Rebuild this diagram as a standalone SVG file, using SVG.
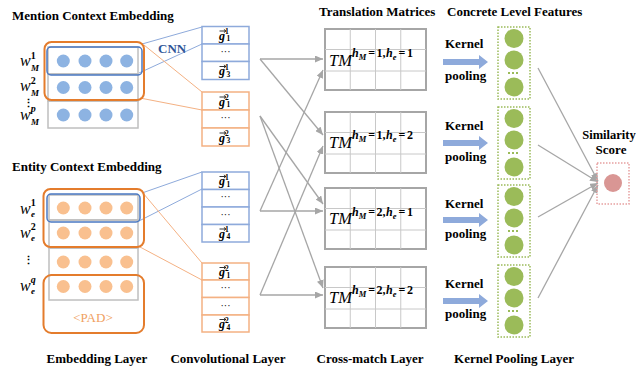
<svg xmlns="http://www.w3.org/2000/svg" xmlns:xlink="http://www.w3.org/1999/xlink" width="636" height="372" viewBox="0 0 636 372">
<style>
.hd{font-family:"Liberation Serif","Times New Roman",serif;font-weight:bold;font-size:13px;fill:#000}
.ct{text-anchor:middle}
.cnn{font-family:"Liberation Serif",serif;font-weight:bold;font-size:13px;fill:#2f5597}
.pad{font-family:"Liberation Serif",serif;font-size:13px;fill:#f0a060;text-anchor:middle}
.wl{font-family:"Liberation Serif",serif;font-style:italic;font-size:16px;fill:#000}
.ws{font-style:normal;font-weight:bold;font-size:10px}
.wi{font-weight:bold;font-style:italic;font-size:9px}
.vd{font-family:"Liberation Serif",serif;font-weight:bold;font-size:11px;fill:#000}
.gl{font-family:"Liberation Serif",serif;font-weight:bold;font-style:italic;font-size:12px;fill:#000}
.gs{font-style:normal;font-size:7.5px}
.dt{font-family:"Liberation Serif",serif;font-size:10px;fill:#000;text-anchor:middle}
.tm{font-family:"Liberation Serif",serif;font-style:italic;font-size:16.5px;fill:#000}
.tms{font-weight:bold;font-style:normal;font-size:12px}
.tmh{font-style:italic}
.tmsub{font-size:8.5px;font-style:italic}
.gray{fill:none;stroke:#bfbfbf;stroke-width:1.5}
.orr{fill:none;stroke:#e47c2c;stroke-width:2}
.blr{fill:none;stroke:#4a78c2;stroke-width:1.5}
.bc{fill:#8db3e2}
.oc{fill:#f9c08f}
.bcell{fill:#fff;stroke:#8eaadb;stroke-width:1.5}
.ocell{fill:#fff;stroke:#f4b183;stroke-width:1.5}
.tmo{fill:#fff;stroke:#a6a6a6;stroke-width:2}
.tmi{stroke:#c8c8c8;stroke-width:1;fill:none}
.fbox{fill:none;stroke:#9bbb59;stroke-width:1.5;stroke-dasharray:1.5 1.5}
.gc{fill:#9bbb59}
.gd{stroke:#9bbb59;stroke-width:2;stroke-dasharray:2 2}
.sbox{fill:none;stroke:#e6a0a0;stroke-width:1.5;stroke-dasharray:1.5 1.5}
.ka{fill:#8eaadb}
.conn{stroke:#a6a6a6;stroke-width:1.3;fill:none;marker-end:url(#ah)}
.bl{stroke:#8eaadb;stroke-width:1;fill:none}
.ol{stroke:#f4b183;stroke-width:1;fill:none}
.vec{stroke:#000;stroke-width:0.8;fill:none}
</style>
<defs>
<marker id="ah" markerUnits="userSpaceOnUse" markerWidth="8" markerHeight="7" refX="8" refY="3.5" orient="auto">
<path d="M0,0 L8,3.5 L0,7 Z" fill="#a6a6a6"/>
</marker>
<path id="karrow" d="M0,-3 H36 V-7 L45,0 L36,7 V3 H0 Z"/>
<path id="vec" class="vec" d="M-3,0 H3.2 M1.4,-1.6 L3.4,0 L1.4,1.6"/>
<path id="tmgrid" class="tmi" d="M25.25,0V61M50.5,0V61M75.75,0V61M0,20.5H101M0,42H101"/>
</defs>
<rect width="636" height="372" fill="#fff"/>

<!-- headers -->
<g id="headers">
<text class="hd" x="12" y="20">Mention Context Embedding</text>
<text class="hd" x="12" y="171">Entity Context Embedding</text>
<text class="hd" x="319" y="16">Translation Matrices</text>
<text class="hd" x="447" y="16">Concrete Level Features</text>
<text class="hd ct" x="97" y="363">Embedding Layer</text>
<text class="hd ct" x="228" y="363">Convolutional Layer</text>
<text class="hd ct" x="370" y="363">Cross-match Layer</text>
<text class="hd ct" x="514" y="363">Kernel Pooling Layer</text>
</g>

<!-- connectors -->
<g id="connectors">
<line class="bl" x1="142" y1="44" x2="202" y2="27"/>
<line class="bl" x1="139" y1="73" x2="202" y2="44"/>
<line class="ol" x1="144" y1="45" x2="202" y2="92"/>
<line class="ol" x1="140" y1="98" x2="202" y2="110"/>
<line class="bl" x1="142" y1="193" x2="202" y2="172"/>
<line class="bl" x1="139" y1="221" x2="202" y2="189"/>
<line class="ol" x1="143" y1="193" x2="202" y2="263"/>
<line class="ol" x1="140" y1="247" x2="202" y2="280"/>
<line class="conn" x1="260" y1="59" x2="323" y2="59"/>
<line class="conn" x1="260" y1="211" x2="323" y2="70"/>
<line class="conn" x1="260" y1="59" x2="323" y2="135"/>
<line class="conn" x1="260" y1="295" x2="323" y2="146"/>
<line class="conn" x1="260" y1="116" x2="323" y2="204"/>
<line class="conn" x1="260" y1="211" x2="323" y2="211"/>
<line class="conn" x1="260" y1="116" x2="323" y2="288"/>
<line class="conn" x1="260" y1="295" x2="323" y2="295"/>
<line class="conn" x1="538" y1="68" x2="598" y2="181"/>
<line class="conn" x1="538" y1="145" x2="598" y2="182"/>
<line class="conn" x1="538" y1="217" x2="598" y2="183"/>
<line class="conn" x1="538" y1="298" x2="598" y2="185"/>
</g>

<!-- mention embedding -->
<g id="mention-embedding">
<rect class="gray" x="48" y="47" width="90" height="27"/>
<rect class="gray" x="48" y="74" width="90" height="27"/>
<rect class="gray" x="48" y="101" width="90" height="27"/>
<circle class="bc" cx="63.3" cy="61" r="6.5"/><circle class="bc" cx="85" cy="61" r="6.5"/><circle class="bc" cx="106" cy="61" r="6.5"/><circle class="bc" cx="126.7" cy="61" r="6.5"/>
<circle class="bc" cx="63.3" cy="87.5" r="6.5"/><circle class="bc" cx="85" cy="87.5" r="6.5"/><circle class="bc" cx="106" cy="87.5" r="6.5"/><circle class="bc" cx="126.7" cy="87.5" r="6.5"/>
<circle class="bc" cx="63.3" cy="115" r="6.5"/><circle class="bc" cx="85" cy="115" r="6.5"/><circle class="bc" cx="106" cy="115" r="6.5"/><circle class="bc" cx="126.7" cy="115" r="6.5"/>
<rect class="orr" x="44.5" y="42" width="99.5" height="58" rx="7"/>
<rect class="blr" x="47" y="47" width="95" height="28" rx="4"/>
<text class="wl" x="20" y="66">w<tspan class="ws" dy="-7">1</tspan><tspan class="wi" x="31" dy="11.5">M</tspan></text>
<text class="wl" x="20" y="91">w<tspan class="ws" dy="-7">2</tspan><tspan class="wi" x="31" dy="11.5">M</tspan></text>
<text class="vd" x="22.5" y="107">⋮</text>
<text class="wl" x="20" y="120">w<tspan class="wi" style="font-size:10px" dy="-8">p</tspan><tspan class="wi" x="31" dy="12.5">M</tspan></text>
</g>

<!-- entity embedding -->
<g id="entity-embedding">
<rect class="gray" x="49" y="195" width="89" height="25"/>
<rect class="gray" x="49" y="220" width="89" height="28"/>
<rect class="gray" x="49" y="248" width="89" height="27"/>
<rect class="gray" x="49" y="275" width="89" height="25"/>
<circle class="oc" cx="63.3" cy="208" r="6.5"/><circle class="oc" cx="85" cy="208" r="6.5"/><circle class="oc" cx="106" cy="208" r="6.5"/><circle class="oc" cx="126.7" cy="208" r="6.5"/>
<circle class="oc" cx="63.3" cy="233" r="6.5"/><circle class="oc" cx="85" cy="233" r="6.5"/><circle class="oc" cx="106" cy="233" r="6.5"/><circle class="oc" cx="126.7" cy="233" r="6.5"/>
<circle class="oc" cx="63.3" cy="262" r="6.5"/><circle class="oc" cx="85" cy="262" r="6.5"/><circle class="oc" cx="106" cy="262" r="6.5"/><circle class="oc" cx="126.7" cy="262" r="6.5"/>
<circle class="oc" cx="63.3" cy="286.5" r="6.5"/><circle class="oc" cx="85" cy="286.5" r="6.5"/><circle class="oc" cx="106" cy="286.5" r="6.5"/><circle class="oc" cx="126.7" cy="286.5" r="6.5"/>
<rect class="orr" x="43.5" y="189" width="100.5" height="58" rx="7"/>
<rect class="blr" x="47" y="194" width="93" height="28" rx="4"/>
<rect class="orr" x="43.5" y="275" width="100.5" height="58" rx="8"/>
<text class="pad" x="93" y="322">&lt;PAD&gt;</text>
<text class="wl" x="20" y="214">w<tspan class="ws" dy="-8">1</tspan><tspan class="wi" x="31" dy="11">e</tspan></text>
<text class="wl" x="20" y="238">w<tspan class="ws" dy="-8">2</tspan><tspan class="wi" x="31" dy="11">e</tspan></text>
<text class="vd" x="22.5" y="264">⋮</text>
<text class="wl" x="20" y="291">w<tspan class="wi" style="font-size:10px" dy="-8.5">q</tspan><tspan class="wi" x="31" dy="11.5">e</tspan></text>
</g>

<g id="cnn-label"><text class="cnn" x="158" y="53">CNN</text></g>

<!-- conv blocks -->
<g id="conv-mention-1">
<rect class="bcell" x="202" y="26.5" width="47" height="17.5"/>
<rect class="bcell" x="202" y="44" width="47" height="17.5"/>
<rect class="bcell" x="202" y="61.5" width="47" height="18"/>
<text class="gl" x="219" y="39.5">g<tspan class="gs" dy="-5.5">1</tspan><tspan class="gs" x="226.5" dy="7">1</tspan></text><use xlink:href="#vec" x="222.5" y="31"/>
<text class="dt" x="225.5" y="55">···</text>
<text class="gl" x="219" y="75">g<tspan class="gs" dy="-5.5">1</tspan><tspan class="gs" x="226.5" dy="7">3</tspan></text><use xlink:href="#vec" x="222.5" y="66.5"/>
</g>
<g id="conv-mention-2">
<rect class="ocell" x="202" y="92" width="47" height="18"/>
<rect class="ocell" x="202" y="110" width="47" height="18"/>
<rect class="ocell" x="202" y="128" width="47" height="18"/>
<text class="gl" x="219" y="105.5">g<tspan class="gs" dy="-5.5">2</tspan><tspan class="gs" x="226.5" dy="7">1</tspan></text><use xlink:href="#vec" x="222.5" y="97"/>
<text class="dt" x="225.5" y="121">···</text>
<text class="gl" x="219" y="141.5">g<tspan class="gs" dy="-5.5">2</tspan><tspan class="gs" x="226.5" dy="7">3</tspan></text><use xlink:href="#vec" x="222.5" y="133"/>
</g>
<g id="conv-entity-1">
<rect class="bcell" x="202" y="172" width="47" height="17.5"/>
<rect class="bcell" x="202" y="189.5" width="47" height="17.5"/>
<rect class="bcell" x="202" y="207" width="47" height="17.5"/>
<rect class="bcell" x="202" y="224.5" width="47" height="17.5"/>
<text class="gl" x="219" y="185">g<tspan class="gs" dy="-5.5">1</tspan><tspan class="gs" x="226.5" dy="7">1</tspan></text><use xlink:href="#vec" x="222.5" y="176.5"/>
<text class="dt" x="225.5" y="200">···</text>
<text class="dt" x="225.5" y="217.5">···</text>
<text class="gl" x="219" y="237.5">g<tspan class="gs" dy="-5.5">1</tspan><tspan class="gs" x="226.5" dy="7">4</tspan></text><use xlink:href="#vec" x="222.5" y="229"/>
</g>
<g id="conv-entity-2">
<rect class="ocell" x="202" y="263" width="47" height="17"/>
<rect class="ocell" x="202" y="280" width="47" height="17.5"/>
<rect class="ocell" x="202" y="297.5" width="47" height="17.5"/>
<rect class="ocell" x="202" y="315" width="47" height="17"/>
<text class="gl" x="219" y="276">g<tspan class="gs" dy="-5.5">2</tspan><tspan class="gs" x="226.5" dy="7">1</tspan></text><use xlink:href="#vec" x="222.5" y="267.5"/>
<text class="dt" x="225.5" y="291">···</text>
<text class="dt" x="225.5" y="308.5">···</text>
<text class="gl" x="219" y="328">g<tspan class="gs" dy="-5.5">2</tspan><tspan class="gs" x="226.5" dy="7">4</tspan></text><use xlink:href="#vec" x="222.5" y="319.5"/>
</g>

<!-- translation matrices -->
<g id="tm-1-1" transform="translate(325,29)">
<rect class="tmo" x="0" y="0" width="101" height="61"/>
<use xlink:href="#tmgrid"/>
<text class="tm" x="4" y="36.5">TM<tspan class="tms" x="27" dy="-8.5"><tspan class="tmh">h</tspan><tspan class="tmsub" dy="3">M</tspan><tspan dx="2" dy="-3">=</tspan><tspan dx="1.5">1,</tspan><tspan class="tmh" dx="0.5">h</tspan><tspan class="tmsub" dy="3">e</tspan><tspan dx="2" dy="-3">=</tspan><tspan dx="1.5">1</tspan></tspan></text>
</g>
<g id="tm-1-2" transform="translate(325,112)">
<rect class="tmo" x="0" y="0" width="101" height="61"/>
<use xlink:href="#tmgrid"/>
<text class="tm" x="4" y="35.5">TM<tspan class="tms" x="27" dy="-8.5"><tspan class="tmh">h</tspan><tspan class="tmsub" dy="3">M</tspan><tspan dx="2" dy="-3">=</tspan><tspan dx="1.5">1,</tspan><tspan class="tmh" dx="0.5">h</tspan><tspan class="tmsub" dy="3">e</tspan><tspan dx="2" dy="-3">=</tspan><tspan dx="1.5">2</tspan></tspan></text>
</g>
<g id="tm-2-1" transform="translate(325,188)">
<rect class="tmo" x="0" y="0" width="101" height="61"/>
<use xlink:href="#tmgrid"/>
<text class="tm" x="4" y="36">TM<tspan class="tms" x="27" dy="-8.5"><tspan class="tmh">h</tspan><tspan class="tmsub" dy="3">M</tspan><tspan dx="2" dy="-3">=</tspan><tspan dx="1.5">2,</tspan><tspan class="tmh" dx="0.5">h</tspan><tspan class="tmsub" dy="3">e</tspan><tspan dx="2" dy="-3">=</tspan><tspan dx="1.5">1</tspan></tspan></text>
</g>
<g id="tm-2-2" transform="translate(325,267)">
<rect class="tmo" x="0" y="0" width="101" height="61"/>
<use xlink:href="#tmgrid"/>
<text class="tm" x="4" y="35.5">TM<tspan class="tms" x="27" dy="-8.5"><tspan class="tmh">h</tspan><tspan class="tmsub" dy="3">M</tspan><tspan dx="2" dy="-3">=</tspan><tspan dx="1.5">2,</tspan><tspan class="tmh" dx="0.5">h</tspan><tspan class="tmsub" dy="3">e</tspan><tspan dx="2" dy="-3">=</tspan><tspan dx="1.5">2</tspan></tspan></text>
</g>

<!-- kernel pooling -->
<g id="kernel-pooling-1">
<text class="hd" x="445" y="48">Kernel</text>
<use xlink:href="#karrow" class="ka" x="443" y="62"/>
<text class="hd" x="445" y="80">pooling</text>
</g>
<g id="kernel-pooling-2">
<text class="hd" x="445" y="130">Kernel</text>
<use xlink:href="#karrow" class="ka" x="443" y="143"/>
<text class="hd" x="445" y="161">pooling</text>
</g>
<g id="kernel-pooling-3">
<text class="hd" x="445" y="208">Kernel</text>
<use xlink:href="#karrow" class="ka" x="443" y="220"/>
<text class="hd" x="445" y="238">pooling</text>
</g>
<g id="kernel-pooling-4">
<text class="hd" x="445" y="288">Kernel</text>
<use xlink:href="#karrow" class="ka" x="443" y="301"/>
<text class="hd" x="445" y="318">pooling</text>
</g>

<!-- features -->
<g id="feature-1" transform="translate(0,27)">
<rect class="fbox" x="498" y="0" width="32" height="72"/>
<circle class="gc" cx="514" cy="11.5" r="9.5"/><circle class="gc" cx="514" cy="33" r="9.5"/>
<line class="gd" x1="508" y1="46" x2="520" y2="46"/>
<circle class="gc" cx="514" cy="60" r="9.5"/>
</g>
<g id="feature-2" transform="translate(0,107)">
<rect class="fbox" x="498" y="0" width="32" height="72"/>
<circle class="gc" cx="514" cy="11.5" r="9.5"/><circle class="gc" cx="514" cy="33" r="9.5"/>
<line class="gd" x1="508" y1="46" x2="520" y2="46"/>
<circle class="gc" cx="514" cy="60" r="9.5"/>
</g>
<g id="feature-3" transform="translate(0,185)">
<rect class="fbox" x="498" y="0" width="32" height="72"/>
<circle class="gc" cx="514" cy="11.5" r="9.5"/><circle class="gc" cx="514" cy="33" r="9.5"/>
<line class="gd" x1="508" y1="46" x2="520" y2="46"/>
<circle class="gc" cx="514" cy="60" r="9.5"/>
</g>
<g id="feature-4" transform="translate(0,265)">
<rect class="fbox" x="498" y="0" width="32" height="72"/>
<circle class="gc" cx="514" cy="11.5" r="9.5"/><circle class="gc" cx="514" cy="33" r="9.5"/>
<line class="gd" x1="508" y1="46" x2="520" y2="46"/>
<circle class="gc" cx="514" cy="60" r="9.5"/>
</g>

<!-- similarity -->
<g id="similarity">
<text class="hd ct" x="609" y="139" style="font-size:12.5px">Similarity</text>
<text class="hd ct" x="611" y="154">Score</text>
<rect class="sbox" x="597" y="163" width="32" height="41"/>
<circle cx="613" cy="183" r="9" fill="#d99694"/>
</g>
</svg>
